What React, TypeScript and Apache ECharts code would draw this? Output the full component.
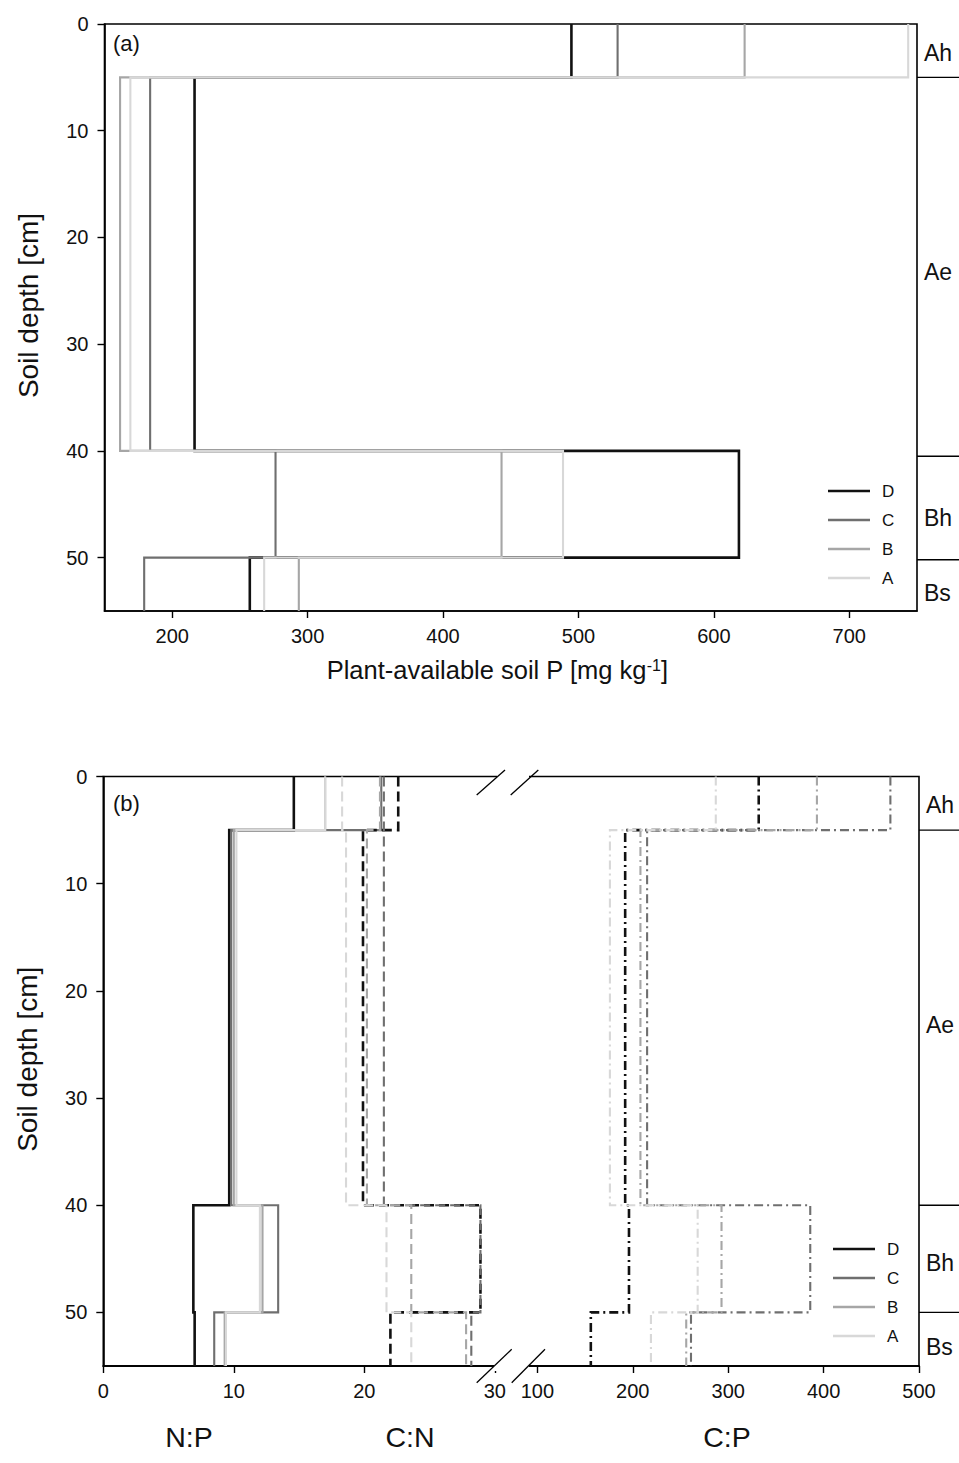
import React, { useEffect, useRef } from "react";
import * as echarts from "echarts";

// Horizon depth boundaries (cm) for the step profiles
const depthSteps = [0, 5, 40, 50, 55];
const sites = ["D", "C", "B", "A"];
const siteColors = ["#111111", "#6f6f6f", "#a6a6a6", "#d8d8d8"];
const siteWidths = [2.6, 2.1, 2.1, 2.1];

// Panel (a): plant-available soil P [mg/kg] per horizon (0-5, 5-40, 40-50, 50-55)
const pD = [494.8, 216.5, 618.5, 257.3];
const pC = [528.9, 183.7, 276.3, 179.3];
const pB = [622.7, 161.5, 443.2, 293.5];
const pA = [743.5, 169.1, 488.6, 267.9];

// Panel (b): N:P ratio
const npD = [14.6, 9.65, 6.9, 7.0];
const npC = [21.3, 9.8, 13.4, 8.5];
const npB = [17.0, 10.0, 12.2, 9.3];
const npA = [17.0, 10.2, 12.0, 9.4];
// C:N ratio
const cnD = [22.6, 19.9, 28.9, 22.0];
const cnC = [21.5, 21.5, 28.9, 28.2];
const cnB = [21.2, 20.2, 23.6, 27.8];
const cnA = [18.3, 18.6, 21.7, 23.6];
// C:P ratio
const cpD = [332, 192, 196, 156];
const cpC = [470, 215, 386, 261];
const cpB = [393, 208, 293, 256];
const cpA = [287, 176, 268, 219];

// Tick labels
const pTicks = [200, 300, 400, 500, 600, 700];
const depthTicks = [0, 10, 20, 30, 40, 50];
const ratioTicks = [0, 10, 20, 30];
const cpTicks = [100, 200, 300, 400, 500];

// Horizons
const horizonNames = ["Ah", "Ae", "Bh", "Bs"];
const horizonLabelDepthsA = [2.7, 23.2, 46.3, 53.3];
const horizonLineDepthsA = [5, 40.5, 50.2];
const horizonLabelDepthsB = [2.7, 23.2, 45.4, 53.2];
const horizonLineDepthsB = [5, 40, 50];

const FONT = "'Liberation Sans', Arial, Helvetica, sans-serif";
const TXT = "#111111";

function steps(vals: number[]): number[][] {
  const pts: number[][] = [];
  for (let i = 0; i < vals.length; i++) {
    pts.push([vals[i], depthSteps[i]]);
    pts.push([vals[i], depthSteps[i + 1]]);
  }
  return pts;
}

function lineSeries(
  name: string,
  vals: number[],
  idx: number,
  xAxisIndex: number,
  yAxisIndex: number,
  type: any
) {
  return {
    type: "line",
    name,
    xAxisIndex,
    yAxisIndex,
    data: steps(vals),
    symbol: "none",
    showSymbol: false,
    silent: true,
    lineStyle: {
      color: siteColors[idx],
      width: siteWidths[idx],
      type,
      cap: "butt",
      join: "miter",
    },
    itemStyle: { color: siteColors[idx] },
  };
}

const axisLineStyle = { onZero: false, lineStyle: { color: "#000", width: 1.6 } };
const tickStyle = { show: true, inside: false, length: 7, lineStyle: { color: "#000", width: 1.4 } };
const labelStyle = { color: TXT, fontSize: 20, fontFamily: FONT };

export default function App() {
  const ref = useRef<HTMLDivElement>(null);
  useEffect(() => {
    document.body.style.margin = "0";
    const chart = echarts.init(ref.current!, null, { renderer: "svg" });

    const pSets = [pD, pC, pB, pA];
    const npSets = [npD, npC, npB, npA];
    const cnSets = [cnD, cnC, cnB, cnA];
    const cpSets = [cpD, cpC, cpB, cpA];

    const series: any[] = [];
    sites.forEach((s, i) => series.push(lineSeries(s, pSets[i], i, 0, 0, "solid")));
    sites.forEach((s, i) => series.push(lineSeries(s, npSets[i], i, 1, 1, "solid")));
    sites.forEach((s, i) => series.push(lineSeries(s, cnSets[i], i, 1, 1, [10, 5])));
    sites.forEach((s, i) => series.push(lineSeries(s, cpSets[i], i, 2, 1, [9, 4, 2, 4])));

    const legendBase = {
      orient: "vertical",
      data: sites.map((s) => ({ name: s, icon: "rect" })),
      itemWidth: 42,
      itemHeight: 2.6,
      itemGap: 11,
      padding: 0,
      selectedMode: false,
      textStyle: { color: TXT, fontSize: 17, lineHeight: 18, fontFamily: FONT, padding: [0, 0, 0, 7] },
    };

    const option: any = {
      animation: false,
      backgroundColor: "#ffffff",
      grid: [
        { left: 104.5, top: 24, width: 812.5, height: 587, show: true, borderColor: "#000", borderWidth: 1.6 },
        { left: 103.3, top: 776.5, width: 815.7, height: 589.5, show: true, borderColor: "#000", borderWidth: 1.6 },
      ],
      xAxis: [
        {
          type: "value",
          gridIndex: 0,
          min: 150,
          max: 750,
          position: "bottom",
          name: "Plant-available soil P [mg kg{sup|-1}]",
          nameLocation: "middle",
          nameGap: 46,
          nameTextStyle: {
            color: TXT,
            fontSize: 25.5,
            fontFamily: FONT,
            padding: [0, 27, 0, 0],
            rich: { sup: { fontSize: 16, fontFamily: FONT, color: TXT, verticalAlign: "top", lineHeight: 15 } },
          },
          axisLine: axisLineStyle,
          axisTick: { ...tickStyle, customValues: pTicks },
          axisLabel: { ...labelStyle, margin: 15, customValues: pTicks },
          splitLine: { show: false },
        },
        {
          type: "value",
          gridIndex: 1,
          min: 0,
          max: 815.7 / 13.05,
          position: "bottom",
          axisLine: axisLineStyle,
          axisTick: { ...tickStyle, customValues: ratioTicks },
          axisLabel: { ...labelStyle, margin: 15, customValues: ratioTicks },
          splitLine: { show: false },
        },
        {
          type: "value",
          gridIndex: 1,
          min: 500 - 815.7 / 0.954,
          max: 500,
          position: "bottom",
          axisLine: axisLineStyle,
          axisTick: { ...tickStyle, customValues: cpTicks },
          axisLabel: { ...labelStyle, margin: 15, customValues: cpTicks },
          splitLine: { show: false },
        },
      ],
      yAxis: [0, 1].map((g) => ({
        type: "value",
        gridIndex: g,
        inverse: true,
        min: 0,
        max: 55,
        name: "Soil depth [cm]",
        nameLocation: "middle",
        nameGap: 62,
        nameTextStyle: { color: TXT, fontSize: 28, fontFamily: FONT, padding: [0, 0, 0, 24] },
        axisLine: axisLineStyle,
        axisTick: { ...tickStyle, customValues: depthTicks },
        axisLabel: { ...labelStyle, margin: 16, customValues: depthTicks },
        splitLine: { show: false },
      })),
      legend: [
        { ...legendBase, left: 828, top: 482 },
        { ...legendBase, left: 833, top: 1240 },
      ],
      series,
    };
    chart.setOption(option);

    // Decorations computed through the chart's own scales
    const gfx: any[] = [];
    const addHorizons = (yAxisIndex: number, right: number, lineDepths: number[], labelDepths: number[]) => {
      lineDepths.forEach((d) => {
        const y = chart.convertToPixel({ yAxisIndex }, d) as number;
        gfx.push({ type: "line", shape: { x1: right, y1: y, x2: 959, y2: y }, style: { stroke: "#000", lineWidth: 1.4 }, z: 10 });
      });
      labelDepths.forEach((d, i) => {
        const y = chart.convertToPixel({ yAxisIndex }, d) as number;
        gfx.push({
          type: "text",
          x: right + 7,
          y,
          style: { text: horizonNames[i], fill: TXT, font: `23px ${FONT}`, verticalAlign: "middle", align: "left" },
          z: 10,
        });
      });
    };
    addHorizons(0, 917, horizonLineDepthsA, horizonLabelDepthsA);
    addHorizons(1, 919, horizonLineDepthsB, horizonLabelDepthsB);

    gfx.push({ type: "text", x: 113, y: 43, style: { text: "(a)", fill: TXT, font: `22px ${FONT}`, verticalAlign: "middle" }, z: 10 });
    gfx.push({ type: "text", x: 113, y: 803, style: { text: "(b)", fill: TXT, font: `22px ${FONT}`, verticalAlign: "middle" }, z: 10 });

    // axis break in panel (b)
    const gapL = 497;
    const gapR = 529;
    gfx.push({ type: "rect", shape: { x: gapL, y: 772, width: gapR - gapL, height: 10 }, style: { fill: "#fff" }, z: 9 });
    gfx.push({ type: "rect", shape: { x: gapL - 3, y: 1361, width: gapR - gapL + 3, height: 10 }, style: { fill: "#fff" }, z: 9 });
    [[476.7, 795, 505, 770], [510.7, 795, 538.3, 770], [476.7, 1382.7, 511.7, 1349.3], [511.7, 1382.7, 545, 1349.3]].forEach((s) => {
      gfx.push({ type: "line", shape: { x1: s[0], y1: s[1], x2: s[2], y2: s[3] }, style: { stroke: "#000", lineWidth: 1.3 }, z: 10 });
    });

    // ratio names under panel (b)
    [["N:P", 189], ["C:N", 410], ["C:P", 727]].forEach(([t, x]) => {
      gfx.push({
        type: "text",
        x: x as number,
        y: 1437,
        style: { text: t as string, fill: TXT, font: `28.5px ${FONT}`, align: "center", verticalAlign: "middle" },
        z: 10,
      });
    });

    chart.setOption({ graphic: gfx });
    return () => chart.dispose();
  }, []);
  return <div ref={ref} style={{ width: 959, height: 1463 }} />;
}
